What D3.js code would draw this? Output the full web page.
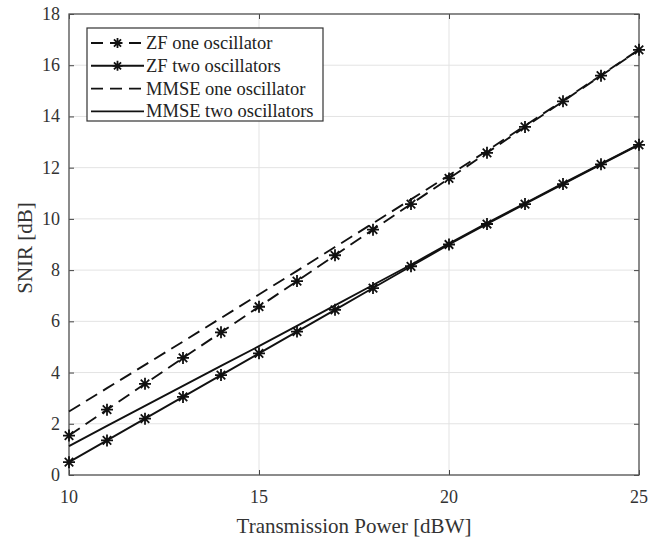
<!DOCTYPE html>
<html>
<head>
<meta charset="utf-8">
<script src="https://cdn.jsdelivr.net/npm/d3@7"></script>
<style>
  body { margin: 0; background: #fff; }
  svg { display: block; font-family: "Liberation Serif", "Times New Roman", serif; }
  .grid line { stroke: #e3e3e3; stroke-width: 1; }
  .series { fill: none; stroke: #111; stroke-width: 1.9; }
  .star { stroke: #111; stroke-width: 1.8; fill: none; }
  .tick-lbl { font-size: 18px; fill: #333; }
  .ax-lbl { font-size: 21px; fill: #333; }
  .leg-txt { font-size: 18.5px; fill: #222; }
</style>
</head>
<body>
<svg class="chart" width="665" height="537"></svg>
<script>
var power = [10, 11, 12, 13, 14, 15, 16, 17, 18, 19, 20, 21, 22, 23, 24, 25]
var zf_one = [1.54, 2.55, 3.56, 4.57, 5.57, 6.57, 7.57, 8.58, 9.58, 10.58, 11.58, 12.58, 13.59, 14.59, 15.59, 16.6]
var zf_two = [0.5, 1.35, 2.2, 3.05, 3.9, 4.75, 5.6, 6.45, 7.3, 8.15, 9.0, 9.8, 10.58, 11.36, 12.13, 12.89]
var mmse_one = [2.48, 3.39, 4.3, 5.21, 6.13, 7.05, 7.97, 8.9, 9.83, 10.76, 11.7, 12.66, 13.64, 14.62, 15.61, 16.61]
var mmse_two = [1.13, 1.92, 2.7, 3.48, 4.26, 5.03, 5.82, 6.62, 7.42, 8.21, 9.04, 9.84, 10.61, 11.39, 12.15, 12.91]
var x_ticks = [10, 15, 20, 25]
var y_ticks = [0, 2, 4, 6, 8, 10, 12, 14, 16, 18]

var series = [
    {name: "ZF one oscillator", values: zf_one, dash: "13,7", star: true},
    {name: "ZF two oscillators", values: zf_two, dash: null, star: true},
    {name: "MMSE one oscillator", values: mmse_one, dash: "13,7", star: false},
    {name: "MMSE two oscillators", values: mmse_two, dash: null, star: false}
]

var pl = 69, pr = 639, pt = 14, pb = 475

var x_scaler = d3.scaleLinear().domain([10, 25]).range([pl, pr])
var y_scaler = d3.scaleLinear().domain([0, 18]).range([pb, pt])

var svg = d3.select(".chart")

// grid
var grid = svg.append("g").attr("class", "grid")
grid.selectAll("line.vx").data(x_ticks).enter().append("line")
  .attr("class", "vx")
  .attr("x1", d => x_scaler(d)).attr("x2", d => x_scaler(d))
  .attr("y1", pt).attr("y2", pb)
grid.selectAll("line.hy").data(y_ticks).enter().append("line")
  .attr("class", "hy")
  .attr("x1", pl).attr("x2", pr)
  .attr("y1", d => y_scaler(d)).attr("y2", d => y_scaler(d))

// axes with inward ticks on all sides
var ax = svg.append("g").attr("class", "axes")
ax.append("g").attr("transform", "translate(0," + pb + ")")
  .call(d3.axisTop(x_scaler).tickValues(x_ticks).tickSize(5).tickFormat(""))
ax.append("g").attr("transform", "translate(0," + pt + ")")
  .call(d3.axisBottom(x_scaler).tickValues(x_ticks).tickSize(5).tickFormat(""))
ax.append("g").attr("transform", "translate(" + pl + ",0)")
  .call(d3.axisRight(y_scaler).tickValues(y_ticks).tickSize(5).tickFormat(""))
ax.append("g").attr("transform", "translate(" + pr + ",0)")
  .call(d3.axisLeft(y_scaler).tickValues(y_ticks).tickSize(5).tickFormat(""))
ax.selectAll(".domain").remove()
ax.selectAll(".tick line").attr("stroke", "#444").attr("stroke-width", 1)

ax.append("rect")
  .attr("x", pl).attr("y", pt)
  .attr("width", pr - pl).attr("height", pb - pt)
  .attr("fill", "none").attr("stroke", "#555").attr("stroke-width", 1.3)

// tick labels
svg.selectAll(".xl").data(x_ticks).enter().append("text")
  .attr("class", "tick-lbl xl")
  .attr("x", d => x_scaler(d)).attr("y", 503)
  .attr("text-anchor", "middle")
  .text(d => d)
svg.selectAll(".yl").data(y_ticks).enter().append("text")
  .attr("class", "tick-lbl yl")
  .attr("x", 60).attr("y", d => y_scaler(d) + 6)
  .attr("text-anchor", "end")
  .text(d => d)

svg.append("text").attr("class", "ax-lbl")
  .attr("x", (pl + pr) / 2).attr("y", 533)
  .attr("text-anchor", "middle")
  .text("Transmission Power [dBW]")
svg.append("text").attr("class", "ax-lbl")
  .attr("transform", "translate(32,248) rotate(-90)")
  .attr("text-anchor", "middle")
  .text("SNIR [dB]")

// star marker like matlab '*'
function starPath(r) {
    var p = ""
    for (var k = 0; k < 4; k++) {
        var a = k * Math.PI / 4
        var dx = r * Math.cos(a), dy = r * Math.sin(a)
        p += "M" + (-dx) + "," + (-dy) + "L" + dx + "," + dy
    }
    return p
}

var line = d3.line()
  .x(function(d, i) { return x_scaler(power[i]) })
  .y(function(d) { return y_scaler(d) })

var plot = svg.append("g").attr("class", "plot")
series.forEach(function(s) {
    plot.append("path")
      .attr("class", "series")
      .attr("d", line(s.values))
      .attr("stroke-dasharray", s.dash)
    if (s.star) {
        plot.selectAll(null).data(s.values).enter().append("path")
          .attr("class", "star")
          .attr("d", starPath(6))
          .attr("transform", function(d, i) {
              return "translate(" + x_scaler(power[i]) + "," + y_scaler(d) + ")"})
    }
})

// legend
var leg = svg.append("g").attr("class", "legend")
leg.append("rect")
  .attr("x", 87).attr("y", 28).attr("width", 236).attr("height", 93)
  .attr("fill", "#fff").attr("stroke", "#333").attr("stroke-width", 1.2)
var rows = leg.selectAll(".row").data(series).enter().append("g")
  .attr("transform", function(d, i) { return "translate(0," + (43 + i * 22.8) + ")" })
rows.append("line")
  .attr("class", "series")
  .attr("x1", 91).attr("x2", 144).attr("y1", 0).attr("y2", 0)
  .attr("stroke-dasharray", d => d.dash ? "12,7" : null)
rows.filter(d => d.star).append("path")
  .attr("class", "star")
  .attr("d", starPath(5))
  .attr("transform", "translate(117.5,0)")
rows.append("text")
  .attr("class", "leg-txt")
  .attr("x", 146).attr("y", 6)
  .text(d => d.name)
</script>
</body>
</html>
